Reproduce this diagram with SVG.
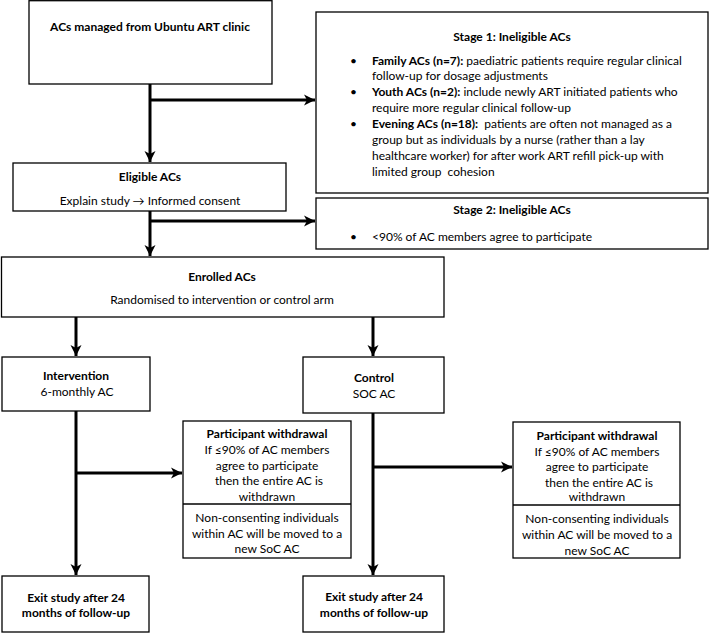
<svg xmlns="http://www.w3.org/2000/svg" width="709" height="633" viewBox="0 0 709 633">
<style>
text{font-family:Lato,"Liberation Sans",Arial,sans-serif;font-size:12px;fill:#000}
.b{font-weight:bold}
.c{text-anchor:middle}
.box{fill:#fff;stroke:#000;stroke-width:1.3}
.con{fill:none;stroke:#000;stroke-width:3}
</style>
<defs>
<marker id="ah" markerUnits="userSpaceOnUse" markerWidth="14" markerHeight="14" refX="11" refY="7" orient="auto">
<path d="M0,1.5 L11,7 L0,12.5 L3,7 z" fill="#000"/>
</marker>
</defs>
<rect width="709" height="633" fill="#fff"/>
<g id="connectors">
<path class="con" d="M150,84 V162" marker-end="url(#ah)"/>
<path class="con" d="M150,100 H315" marker-end="url(#ah)"/>
<path class="con" d="M150,211 V256" marker-end="url(#ah)"/>
<path class="con" d="M150,221 H315" marker-end="url(#ah)"/>
<path class="con" d="M76,317 V356" marker-end="url(#ah)"/>
<path class="con" d="M373,317 V356" marker-end="url(#ah)"/>
<path class="con" d="M76,411 V575" marker-end="url(#ah)"/>
<path class="con" d="M76,473 H182" marker-end="url(#ah)"/>
<path class="con" d="M373,413 V575" marker-end="url(#ah)"/>
<path class="con" d="M373,467 H512" marker-end="url(#ah)"/>
</g>
<g id="source">
<rect class="box" x="29" y="0.7" width="243" height="83.3"/>
<text class="b c" x="150" y="31">ACs managed from Ubuntu ART clinic</text>
</g>
<g id="stage1">
<rect class="box" x="316" y="12" width="392" height="181"/>
<text class="b c" x="512" y="41">Stage 1: Ineligible ACs</text>
<text x="350" y="65">•</text>
<text x="372" y="65"><tspan class="b">Family ACs (n=7):</tspan> paediatric patients require regular clinical</text>
<text x="372" y="80">follow-up for dosage adjustments</text>
<text x="350" y="96">•</text>
<text x="372" y="96"><tspan class="b">Youth ACs (n=2):</tspan> include newly ART initiated patients who</text>
<text x="372" y="112">require more regular clinical follow-up</text>
<text x="350" y="128">•</text>
<text x="372" y="128" xml:space="preserve"><tspan class="b">Evening ACs (n=18):</tspan>  patients are often not managed as a</text>
<text x="372" y="144">group but as individuals by a nurse (rather than a lay</text>
<text x="372" y="160">healthcare worker) for after work ART refill pick-up with</text>
<text x="372" y="176" xml:space="preserve">limited group  cohesion</text>
</g>
<g id="eligible">
<rect class="box" x="13" y="163" width="273" height="48"/>
<text class="b c" x="150" y="181">Eligible ACs</text>
<text class="c" x="150" y="205">Explain study → Informed consent</text>
</g>
<g id="stage2">
<rect class="box" x="316" y="198" width="392" height="51"/>
<text class="b c" x="512" y="214">Stage 2: Ineligible ACs</text>
<text x="350" y="241">•</text>
<text x="372" y="241">&lt;90% of AC members agree to participate</text>
</g>
<g id="enrolled">
<rect class="box" x="1.5" y="257" width="442.5" height="60"/>
<text class="b c" x="222" y="281">Enrolled ACs</text>
<text class="c" x="222" y="304">Randomised to intervention or control arm</text>
</g>
<g id="intervention">
<rect class="box" x="2" y="357" width="148" height="54"/>
<text class="b c" x="76" y="380">Intervention</text>
<text class="c" x="77" y="396">6-monthly AC</text>
</g>
<g id="control">
<rect class="box" x="303" y="357" width="141" height="56"/>
<text class="b c" x="374" y="382">Control</text>
<text class="c" x="374" y="398">SOC AC</text>
</g>
<g id="withdrawal-left">
<rect class="box" x="183" y="421" width="168" height="137"/>
<line x1="183" y1="504" x2="351" y2="504" stroke="#000" stroke-width="1.3"/>
<text class="b c" x="267" y="438">Participant withdrawal</text>
<text class="c" x="267" y="454">If ≤90% of AC members</text>
<text class="c" x="267" y="470">agree to participate</text>
<text class="c" x="269" y="485">then the entire AC is</text>
<text class="c" x="267" y="501">withdrawn</text>
<text class="c" x="267" y="522">Non-consenting individuals</text>
<text class="c" x="267" y="538">within AC will be moved to a</text>
<text class="c" x="267" y="553">new SoC AC</text>
</g>
<g id="withdrawal-right">
<rect class="box" x="513" y="422" width="167" height="136"/>
<line x1="513" y1="505" x2="680" y2="505" stroke="#000" stroke-width="1.3"/>
<text class="b c" x="597" y="440">Participant withdrawal</text>
<text class="c" x="597" y="456">If ≤90% of AC members</text>
<text class="c" x="597" y="471">agree to participate</text>
<text class="c" x="599" y="487">then the entire AC is</text>
<text class="c" x="597" y="501">withdrawn</text>
<text class="c" x="597" y="523">Non-consenting individuals</text>
<text class="c" x="597" y="539">within AC will be moved to a</text>
<text class="c" x="597" y="555">new SoC AC</text>
</g>
<g id="exit-left">
<rect class="box" x="2" y="576" width="147" height="56"/>
<text class="b c" x="76" y="602">Exit study after 24</text>
<text class="b c" x="76" y="617">months of follow-up</text>
</g>
<g id="exit-right">
<rect class="box" x="303" y="576" width="141" height="56"/>
<text class="b c" x="374" y="601">Exit study after 24</text>
<text class="b c" x="374" y="617">months of follow-up</text>
</g>
</svg>
